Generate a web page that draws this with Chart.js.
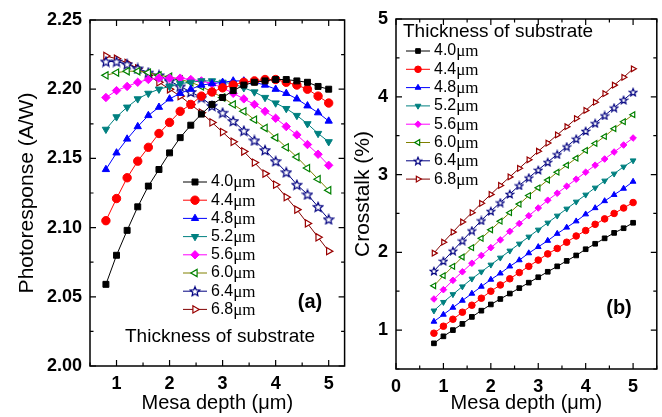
<!DOCTYPE html>
<html>
<head>
<meta charset="utf-8">
<script src="https://cdn.jsdelivr.net/npm/chart.js@4/dist/chart.umd.min.js"></script>
<style>
  html, body { margin: 0; padding: 0; background: #fff; }
  #wrap { position: relative; width: 662px; height: 417px; }
  #left { position: absolute; left: 0; top: 0; }
  #right { position: absolute; left: 350px; top: 0; }
</style>
</head>
<body>
<div id="wrap">
  <canvas id="left" width="350" height="417"></canvas>
  <canvas id="right" width="312" height="417"></canvas>
</div>
<script>
// Mesa depth (um) shared by all curves
const depth = [0.8, 1.0, 1.2, 1.4, 1.6, 1.8, 2.0, 2.2, 2.4, 2.6, 2.8, 3.0, 3.2, 3.4, 3.6, 3.8, 4.0, 4.2, 4.4, 4.6, 4.8, 5.0];
const thickness = ["4.0", "4.4", "4.8", "5.2", "5.6", "6.0", "6.4", "6.8"];

// (a) photoresponse, A/W
const resp40 = [2.059, 2.080, 2.098, 2.115, 2.130, 2.142, 2.154, 2.165, 2.174, 2.182, 2.189, 2.194, 2.199, 2.203, 2.205, 2.206, 2.207, 2.207, 2.206, 2.205, 2.202, 2.200];
const resp44 = [2.105, 2.121, 2.136, 2.148, 2.158, 2.168, 2.176, 2.184, 2.189, 2.195, 2.198, 2.201, 2.203, 2.205, 2.206, 2.207, 2.207, 2.205, 2.203, 2.200, 2.195, 2.190];
const resp48 = [2.142, 2.154, 2.164, 2.173, 2.181, 2.187, 2.193, 2.197, 2.200, 2.203, 2.204, 2.205, 2.206, 2.206, 2.205, 2.203, 2.200, 2.197, 2.193, 2.188, 2.183, 2.177];
const resp52 = [2.171, 2.180, 2.187, 2.193, 2.197, 2.200, 2.202, 2.204, 2.205, 2.206, 2.206, 2.205, 2.204, 2.201, 2.198, 2.194, 2.190, 2.186, 2.181, 2.175, 2.168, 2.162];
const resp56 = [2.194, 2.199, 2.202, 2.205, 2.207, 2.208, 2.208, 2.208, 2.207, 2.206, 2.204, 2.201, 2.197, 2.193, 2.189, 2.184, 2.179, 2.173, 2.167, 2.160, 2.153, 2.145];
const resp60 = [2.210, 2.212, 2.213, 2.213, 2.212, 2.210, 2.209, 2.207, 2.205, 2.202, 2.198, 2.194, 2.189, 2.184, 2.178, 2.172, 2.165, 2.158, 2.151, 2.143, 2.135, 2.127];
const resp64 = [2.220, 2.220, 2.218, 2.215, 2.212, 2.210, 2.206, 2.202, 2.198, 2.194, 2.188, 2.183, 2.177, 2.170, 2.163, 2.156, 2.148, 2.140, 2.131, 2.124, 2.115, 2.106];
const resp68 = [2.224, 2.222, 2.219, 2.215, 2.210, 2.205, 2.200, 2.195, 2.189, 2.183, 2.176, 2.169, 2.162, 2.155, 2.147, 2.139, 2.131, 2.122, 2.113, 2.103, 2.093, 2.083];

// (b) crosstalk, %
const xtalk40 = [0.83, 0.92, 1.00, 1.08, 1.17, 1.25, 1.33, 1.40, 1.47, 1.54, 1.61, 1.68, 1.75, 1.82, 1.89, 1.96, 2.04, 2.11, 2.18, 2.25, 2.31, 2.38];
const xtalk44 = [0.96, 1.05, 1.14, 1.23, 1.32, 1.41, 1.50, 1.58, 1.66, 1.74, 1.82, 1.90, 1.98, 2.05, 2.13, 2.21, 2.28, 2.36, 2.43, 2.50, 2.57, 2.64];
const xtalk48 = [1.11, 1.20, 1.29, 1.38, 1.47, 1.56, 1.65, 1.73, 1.82, 1.90, 1.99, 2.07, 2.15, 2.24, 2.32, 2.40, 2.49, 2.57, 2.66, 2.74, 2.82, 2.91];
const xtalk52 = [1.25, 1.36, 1.46, 1.56, 1.66, 1.75, 1.84, 1.93, 2.02, 2.11, 2.20, 2.29, 2.38, 2.47, 2.56, 2.65, 2.74, 2.83, 2.92, 3.01, 3.10, 3.18];
const xtalk56 = [1.40, 1.52, 1.64, 1.75, 1.86, 1.96, 2.06, 2.16, 2.27, 2.37, 2.47, 2.57, 2.67, 2.76, 2.85, 2.94, 3.03, 3.12, 3.20, 3.29, 3.38, 3.47];
const xtalk60 = [1.57, 1.70, 1.82, 1.94, 2.06, 2.18, 2.29, 2.40, 2.51, 2.62, 2.73, 2.83, 2.93, 3.03, 3.12, 3.21, 3.31, 3.40, 3.49, 3.59, 3.68, 3.77];
const xtalk64 = [1.76, 1.89, 2.02, 2.15, 2.28, 2.41, 2.53, 2.64, 2.75, 2.86, 2.96, 3.06, 3.16, 3.26, 3.36, 3.46, 3.56, 3.66, 3.76, 3.86, 3.96, 4.06];
const xtalk68 = [1.99, 2.13, 2.26, 2.39, 2.51, 2.63, 2.745, 2.86, 2.97, 3.08, 3.19, 3.30, 3.405, 3.51, 3.615, 3.72, 3.825, 3.93, 4.04, 4.15, 4.25, 4.36];

const leftXTicks = [1, 2, 3, 4, 5];
const leftYTicks = [2.00, 2.05, 2.10, 2.15, 2.20, 2.25];
const rightXTicks = [0, 1, 2, 3, 4, 5];
const rightYTicks = [1, 2, 3, 4, 5];

const SANS = "'Liberation Sans', Arial, sans-serif";
const SERIF = "'Liberation Serif', 'Times New Roman', serif";

// line colour, marker fill, marker edge, marker shape
const looks = [
  { line: "#000000", fill: "#000000", edge: "#000000", shape: "rect", rot: 0 },
  { line: "#ff0000", fill: "#ff0000", edge: "#ff0000", shape: "circle", rot: 0 },
  { line: "#0000ff", fill: "#0000ff", edge: "#0000ff", shape: "triangle", rot: 0 },
  { line: "#008080", fill: "#008080", edge: "#008080", shape: "triangle", rot: 180 },
  { line: "#ff00ff", fill: "#ff00ff", edge: "#ff00ff", shape: "rectRot", rot: 0 },
  { line: "#808000", fill: "#ffffff", edge: "#008000", shape: "triangle", rot: 270, open: true },
  { line: "#000080", fill: "#ffffff", edge: "#000080", shape: "star", rot: 0, open: true },
  { line: "#800000", fill: "#ffffff", edge: "#990000", shape: "triangle", rot: 90, open: true }
];

function starImage(size, color) {
  const c = document.createElement("canvas");
  c.width = c.height = size;
  const g = c.getContext("2d");
  const R = size / 2 - 1, r = R * 0.45, m = size / 2;
  g.beginPath();
  for (let k = 0; k < 10; k++) {
    const a = -Math.PI / 2 + k * Math.PI / 5;
    const rr = k % 2 ? r : R;
    g[k ? "lineTo" : "moveTo"](m + rr * Math.cos(a), m + 0.5 + rr * Math.sin(a));
  }
  g.closePath();
  g.fillStyle = "#fff";
  g.fill();
  g.strokeStyle = color;
  g.lineWidth = 1.2;
  g.stroke();
  return c;
}

function buildDatasets(seriesList, small) {
  return seriesList.map((values, i) => {
    const s = looks[i];
    return {
      label: thickness[i] + "μm",
      data: values.map((v, j) => ({ x: depth[j], y: v })),
      borderColor: s.line,
      borderWidth: 1,
      pointStyle: s.shape === "star" ? starImage(small ? 10 : 12, s.edge) : s.shape,
      pointRotation: s.rot,
      pointRadius: small ? 3.3 : 4.2,
      pointBackgroundColor: s.fill,
      pointBorderColor: s.edge,
      pointBorderWidth: s.open ? 1.2 : 1,
      tension: 0
    };
  });
}

// frame, inward ticks on all four sides, in-plot legend and labels
const panelPlugin = {
  id: "panel",
  afterDraw(chart, args, opts) {
    const { ctx, chartArea: a, scales: { x, y } } = chart;
    ctx.save();
    ctx.strokeStyle = "#000";
    ctx.lineWidth = 1.5;
    ctx.strokeRect(a.left, a.top, a.right - a.left, a.bottom - a.top);

    const marks = scale => {
      const vals = scale.ticks.map(t => t.value);
      const half = (vals[1] - vals[0]) / 2;
      const out = [];
      for (let k = -4; k < vals.length * 2 + 4; k++) {
        const v = vals[0] + k * half;
        if (v < scale.min - 1e-9 || v > scale.max + 1e-9) continue;
        out.push({ px: scale.getPixelForValue(v), len: k % 2 === 0 ? 6 : 3.5 });
      }
      return out;
    };
    ctx.lineWidth = 1.2;
    ctx.beginPath();
    marks(x).forEach(m => {
      ctx.moveTo(m.px, a.bottom); ctx.lineTo(m.px, a.bottom - m.len);
      ctx.moveTo(m.px, a.top); ctx.lineTo(m.px, a.top + m.len);
    });
    marks(y).forEach(m => {
      ctx.moveTo(a.left, m.px); ctx.lineTo(a.left + m.len, m.px);
      ctx.moveTo(a.right, m.px); ctx.lineTo(a.right - m.len, m.px);
    });
    ctx.stroke();

    // legend
    const L = opts.legend;
    chart.data.datasets.forEach((ds, i) => {
      const yy = L.y + i * L.step;
      ctx.strokeStyle = ds.borderColor;
      ctx.lineWidth = 1;
      ctx.beginPath();
      ctx.moveTo(L.x, yy);
      ctx.lineTo(L.x + 24, yy);
      ctx.stroke();
      ctx.fillStyle = ds.pointBackgroundColor;
      ctx.strokeStyle = ds.pointBorderColor;
      ctx.lineWidth = ds.pointBorderWidth;
      Chart.helpers.drawPoint(ctx, {
        pointStyle: ds.pointStyle, rotation: ds.pointRotation,
        radius: ds.pointRadius, borderWidth: ds.pointBorderWidth
      }, L.x + 12, yy);
      ctx.fillStyle = "#000";
      ctx.textBaseline = "middle";
      ctx.textAlign = "left";
      ctx.font = "16px " + SANS;
      ctx.fillText(thickness[i], L.x + 28, yy);
      const w = ctx.measureText(thickness[i]).width;
      ctx.font = "17px " + SERIF;
      ctx.fillText("μm", L.x + 28 + w, yy + 1);
    });

    ctx.fillStyle = "#000";
    ctx.textBaseline = "middle";
    ctx.textAlign = "left";
    ctx.font = "19px " + SANS;
    ctx.fillText("Thickness of substrate", opts.caption.x, opts.caption.y);
    ctx.textAlign = "center";
    ctx.font = "bold 20px " + SANS;
    ctx.fillText(opts.tag.text, opts.tag.x, opts.tag.y);
    ctx.restore();
  }
};

function createPanel(id, cfg) {
  const tickFont = { family: SANS, size: 18, weight: "bold" };
  const titleFont = { family: SANS, size: 20 };
  return new Chart(document.getElementById(id).getContext("2d"), {
    type: "line",
    data: { datasets: cfg.datasets },
    plugins: [panelPlugin],
    options: {
      responsive: false,
      animation: false,
      layout: { padding: cfg.padding },
      plugins: {
        legend: { display: false },
        tooltip: { enabled: false },
        panel: cfg.panel
      },
      scales: {
        x: {
          type: "linear", min: cfg.xMin, max: cfg.xMax,
          afterBuildTicks: s => { s.ticks = cfg.xTicks.map(v => ({ value: v })); },
          afterFit: s => { s.height = cfg.xHeight; },
          grid: { display: false, drawTicks: false },
          border: { display: false },
          ticks: { font: tickFont, color: "#000", padding: 7, maxRotation: 0 },
          title: { display: true, text: "Mesa depth (μm)", font: titleFont, color: "#000", padding: { top: 0, bottom: 2 } }
        },
        y: {
          type: "linear", min: cfg.yMin, max: cfg.yMax,
          afterBuildTicks: s => { s.ticks = cfg.yTicks.map(v => ({ value: v })); },
          afterFit: s => { s.width = cfg.yWidth; },
          grid: { display: false, drawTicks: false },
          border: { display: false },
          ticks: { font: tickFont, color: "#000", padding: 8, callback: cfg.yFormat },
          title: { display: true, text: cfg.yTitle, font: { family: SANS, size: 21 }, color: "#000", padding: cfg.yTitlePad }
        }
      }
    }
  });
}

createPanel("left", {
  datasets: buildDatasets([resp40, resp44, resp48, resp52, resp56, resp60, resp64, resp68], false),
  padding: { left: 0, top: 20, right: 5, bottom: 0 },
  xMin: 0.5, xMax: 5.3, xTicks: leftXTicks, xHeight: 51,
  yMin: 2.0, yMax: 2.25, yTicks: leftYTicks, yWidth: 90,
  yFormat: v => v.toFixed(2),
  yTitle: "Photoresponse (A/W)", yTitlePad: { top: 15, bottom: 0 },
  panel: {
    legend: { x: 183, y: 182, step: 18.2 },
    caption: { x: 125, y: 337 },
    tag: { text: "(a)", x: 310, y: 302 }
  }
});

createPanel("right", {
  datasets: buildDatasets([xtalk40, xtalk44, xtalk48, xtalk52, xtalk56, xtalk60, xtalk64, xtalk68], true),
  padding: { left: 0, top: 19, right: 4, bottom: 0 },
  xMin: 0, xMax: 5.5, xTicks: rightXTicks, xHeight: 48,
  yMin: 0.5, yMax: 5, yTicks: rightYTicks, yWidth: 46,
  yFormat: v => String(v),
  yTitle: "Crosstalk (%)", yTitlePad: { top: 1, bottom: 0 },
  panel: {
    legend: { x: 56, y: 51, step: 18.3 },
    caption: { x: 53, y: 32 },
    tag: { text: "(b)", x: 269, y: 308 }
  }
});
</script>
</body>
</html>
